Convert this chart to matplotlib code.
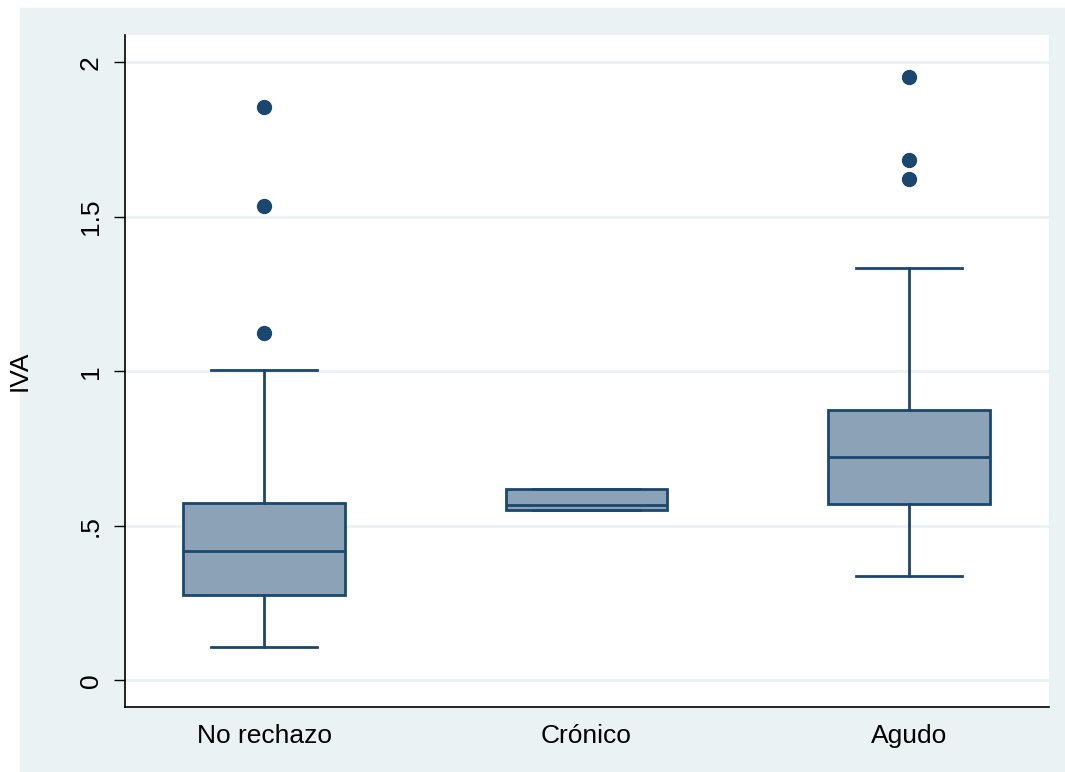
import matplotlib.pyplot as plt
from matplotlib.patches import Rectangle

# grupos y estadisticos de IVA por grupo
grupos = ["No rechazo", "Crónico", "Agudo"]
q1 = [0.276, 0.551, 0.570]
mediana = [0.418, 0.567, 0.723]
q3 = [0.574, 0.619, 0.875]
bigote_inf = [0.107, 0.551, 0.337]
bigote_sup = [1.005, 0.619, 1.335]
atipicos = [[1.125, 1.536, 1.854], [], [1.621, 1.682, 1.951]]
yticks = [0, 0.5, 1, 1.5, 2]
ytick_labels = ["0", ".5", "1", "1.5", "2"]

azul = "#1a476f"
relleno = "#8ca3b7"
fondo = "#eaf2f3"

plt.rcParams["font.family"] = ["Liberation Sans", "DejaVu Sans"]

fig = plt.figure(figsize=(10.65, 7.72), dpi=100, facecolor="white")
# region del grafico (fondo claro), queda por debajo de los ejes
fig.patches.append(Rectangle((20 / 1065, 0), 1 - 20 / 1065, 1 - 8 / 772,
                             transform=fig.transFigure, color=fondo, zorder=-10))
ax = fig.add_axes([125 / 1065, 1 - 707 / 772, 924 / 1065, 672 / 772])
ax.set_facecolor("white")

stats = []
for i in range(len(grupos)):
    stats.append({"med": mediana[i], "q1": q1[i], "q3": q3[i],
                  "whislo": bigote_inf[i], "whishi": bigote_sup[i],
                  "fliers": atipicos[i], "label": grupos[i]})

ax.bxp(stats, positions=[1, 2, 3], widths=0.5, capwidths=0.33,
       patch_artist=True, showfliers=True,
       boxprops=dict(facecolor=relleno, edgecolor=azul, linewidth=2.0),
       medianprops=dict(color=azul, linewidth=2.0),
       whiskerprops=dict(color=azul, linewidth=2.0),
       capprops=dict(color=azul, linewidth=2.0),
       flierprops=dict(marker="o", markerfacecolor=azul, markeredgecolor=azul,
                       markersize=10))

ax.set_xlim(0.569, 3.434)
ax.set_ylim(-0.0864, 2.088)
ax.set_yticks(yticks)
ax.set_yticklabels(ytick_labels, rotation=90, va="center")
ax.yaxis.grid(True, color=fondo, linewidth=2.0)
ax.set_axisbelow(True)
ax.tick_params(axis="y", length=8, width=1, labelsize=19, pad=8)
ax.tick_params(axis="x", length=0, labelsize=19, pad=12)
ax.set_ylabel("IVA", fontsize=19, labelpad=34)

for lado in ["top", "right"]:
    ax.spines[lado].set_visible(False)
for lado in ["left", "bottom"]:
    ax.spines[lado].set_linewidth(1.2)
    ax.spines[lado].set_color("black")

fig.savefig("out.png", dpi=100, facecolor=fig.get_facecolor())
